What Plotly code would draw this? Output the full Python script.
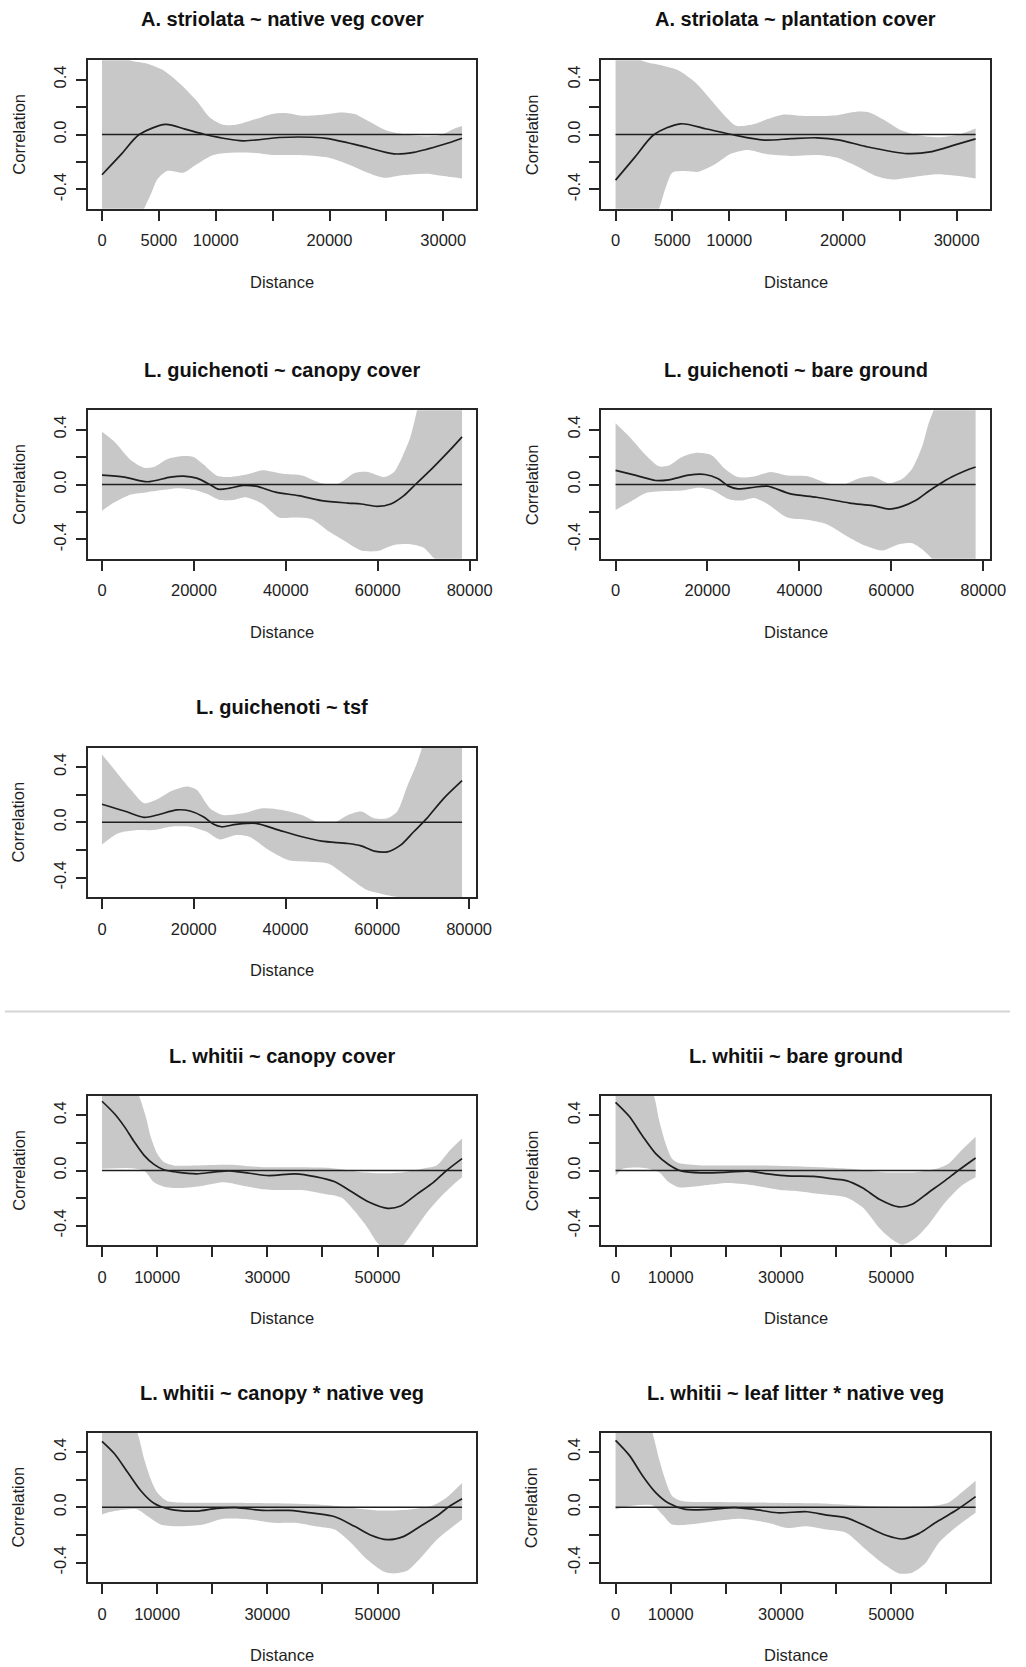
import plotly.graph_objects as go

W, H = 1026, 1667

# ---------------- data ----------------
titles = ["A. striolata ~ native veg cover", "A. striolata ~ plantation cover",
          "L. guichenoti ~ canopy cover", "L. guichenoti ~ bare ground",
          "L. guichenoti ~ tsf",
          "L. whitii ~ canopy cover", "L. whitii ~ bare ground",
          "L. whitii ~ canopy * native veg", "L. whitii ~ leaf litter * native veg"]

# panel 1
p1_line_x = [0, 1680, 3270, 5580, 7300, 9050, 12370, 15550, 18440, 19880, 22770, 25660, 27400, 30000, 31650]
p1_line_y = [-0.293, -0.145, 0, 0.073, 0.039, 0, -0.046, -0.022, -0.020, -0.030, -0.083, -0.141, -0.130, -0.073, -0.027]
p1_up_x = [0, 2690, 3990, 5430, 6880, 8320, 9480, 10640, 11790, 13530, 14970, 16130, 17570, 19310, 21040, 22200, 23640, 25090, 26530, 28270, 29710, 30870, 31650]
p1_up_y = [0.62, 0.534, 0.515, 0.466, 0.368, 0.246, 0.124, 0.071, 0.071, 0.112, 0.149, 0.156, 0.137, 0.144, 0.161, 0.149, 0.088, 0.027, 0.002, -0.012, -0.005, 0.039, 0.061]
p1_lo_x = [0, 3000, 3700, 4280, 4860, 5720, 7170, 8320, 9770, 11210, 13240, 14970, 16990, 18730, 19880, 21620, 23350, 24800, 26530, 28550, 30000, 31650]
p1_lo_y = [-1.0, -0.65, -0.54, -0.437, -0.327, -0.266, -0.278, -0.217, -0.149, -0.132, -0.132, -0.149, -0.149, -0.156, -0.168, -0.217, -0.278, -0.315, -0.295, -0.285, -0.302, -0.320]

# panel 2
p2_line_x = [0, 1700, 3385, 5700, 8000, 10180, 13070, 15500, 17700, 19730, 22040, 25660, 27830, 29850, 31670]
p2_line_y = [-0.332, -0.165, 0, 0.078, 0.040, 0, -0.041, -0.030, -0.024, -0.041, -0.088, -0.139, -0.124, -0.076, -0.032]
p2_up_x = [0, 2660, 4110, 5550, 7000, 8450, 9600, 10620, 12200, 13360, 14810, 16260, 17990, 19440, 21180, 22330, 23490, 24930, 26380, 28400, 30140, 31670]
p2_up_y = [0.62, 0.527, 0.502, 0.466, 0.380, 0.246, 0.137, 0.063, 0.076, 0.112, 0.146, 0.137, 0.134, 0.141, 0.166, 0.161, 0.112, 0.039, -0.002, -0.020, -0.002, 0.044]
p2_lo_x = [0, 3100, 3820, 4400, 4980, 5840, 7290, 8740, 10180, 11630, 13360, 15390, 17700, 19440, 21180, 22910, 24350, 26380, 28400, 30140, 31670]
p2_lo_y = [-1.0, -0.65, -0.54, -0.388, -0.278, -0.266, -0.271, -0.217, -0.139, -0.112, -0.144, -0.156, -0.149, -0.168, -0.229, -0.302, -0.327, -0.307, -0.290, -0.302, -0.320]

# panel 3
p3_line_x = [0, 4870, 9870, 14880, 17750, 20610, 23470, 25260, 27760, 30630, 33490, 37780, 42790, 47800, 53520, 56390, 59960, 62830, 65690, 68190, 72130, 75700, 78350]
p3_line_y = [0.068, 0.054, 0.020, 0.054, 0.061, 0.046, 0, -0.034, -0.027, -0.007, -0.012, -0.056, -0.081, -0.117, -0.135, -0.142, -0.159, -0.142, -0.081, 0, 0.127, 0.250, 0.347]
p3_up_x = [0, 2720, 6300, 9160, 11310, 14170, 17030, 19890, 22040, 24900, 27760, 32060, 34920, 39210, 43510, 47800, 51380, 54960, 57820, 61400, 63540, 65330, 67120, 68550, 70000, 78350]
p3_up_y = [0.384, 0.311, 0.176, 0.122, 0.127, 0.183, 0.205, 0.201, 0.147, 0.066, 0.054, 0.078, 0.103, 0.078, 0.066, 0.010, 0.005, 0.083, 0.091, 0.054, 0.091, 0.201, 0.347, 0.54, 0.75, 1.2]
p3_lo_x = [0, 2720, 6300, 9870, 13450, 16320, 19890, 22750, 25620, 28480, 31340, 34920, 38500, 42080, 45660, 49230, 52810, 56390, 59960, 63540, 67120, 69980, 72130, 73000, 78350]
p3_lo_y = [-0.191, -0.130, -0.073, -0.056, -0.039, -0.027, -0.039, -0.068, -0.113, -0.113, -0.093, -0.142, -0.240, -0.240, -0.252, -0.338, -0.411, -0.480, -0.484, -0.440, -0.435, -0.460, -0.533, -0.56, -0.9]

# panel 4
p4_line_x = [0, 4440, 8730, 11590, 15890, 19460, 22330, 24470, 26620, 30200, 33060, 38070, 43790, 50950, 55960, 59530, 62400, 65260, 68120, 70270, 73130, 75990, 78350]
p4_line_y = [0.103, 0.066, 0.029, 0.034, 0.068, 0.073, 0.042, -0.010, -0.032, -0.020, -0.012, -0.068, -0.093, -0.135, -0.154, -0.179, -0.159, -0.117, -0.049, -0.002, 0.054, 0.098, 0.127]
p4_up_x = [0, 3000, 6580, 9450, 11590, 14450, 17320, 20890, 23760, 26620, 30200, 33780, 37350, 41640, 45940, 49520, 53090, 55960, 59530, 62400, 64540, 66690, 68120, 69190, 70500, 78350]
p4_up_y = [0.445, 0.347, 0.213, 0.132, 0.139, 0.201, 0.230, 0.213, 0.115, 0.054, 0.059, 0.091, 0.066, 0.061, 0.010, 0, 0.046, 0.059, 0.010, 0.042, 0.115, 0.274, 0.445, 0.54, 0.75, 1.2]
p4_lo_x = [0, 3000, 6580, 10160, 14450, 18030, 20890, 24470, 27330, 30200, 33060, 37350, 41640, 45940, 50230, 54520, 58100, 61680, 64540, 66690, 68840, 70000, 78350]
p4_lo_y = [-0.186, -0.130, -0.061, -0.049, -0.044, -0.024, -0.039, -0.105, -0.117, -0.098, -0.142, -0.240, -0.257, -0.289, -0.374, -0.448, -0.480, -0.435, -0.428, -0.472, -0.54, -0.6, -1.0]

# panel 5
p5_line_x = [0, 4870, 9170, 12040, 16340, 19200, 22080, 24230, 26020, 29240, 33540, 38550, 43570, 47870, 53600, 56470, 59330, 62200, 65070, 67940, 70800, 74390, 78470]
p5_line_y = [0.131, 0.082, 0.036, 0.053, 0.090, 0.082, 0.041, -0.012, -0.032, -0.015, -0.007, -0.056, -0.104, -0.136, -0.153, -0.170, -0.208, -0.213, -0.165, -0.068, 0.029, 0.170, 0.301]
p5_up_x = [0, 2720, 6310, 9170, 12040, 14900, 18490, 20640, 23510, 26380, 30670, 34970, 39270, 43570, 47150, 50730, 53600, 56470, 59330, 62200, 64350, 66500, 68650, 69720, 71000, 78470]
p5_up_y = [0.490, 0.381, 0.235, 0.138, 0.167, 0.223, 0.259, 0.235, 0.102, 0.053, 0.065, 0.102, 0.090, 0.053, 0, 0, 0.053, 0.078, 0.029, 0.029, 0.078, 0.259, 0.429, 0.54, 0.75, 1.2]
p5_lo_x = [0, 3440, 7740, 11320, 14900, 19200, 22790, 25660, 29240, 32110, 36410, 40720, 45730, 49310, 53600, 57900, 60770, 63640, 66500, 68000, 78470]
p5_lo_y = [-0.160, -0.080, -0.056, -0.056, -0.032, -0.032, -0.068, -0.124, -0.092, -0.104, -0.201, -0.274, -0.286, -0.298, -0.395, -0.492, -0.516, -0.536, -0.55, -0.6, -1.0]

# panel 6
p6_line_x = [0, 2270, 4060, 5850, 7640, 9430, 11220, 13600, 17180, 20170, 23150, 26730, 30310, 35080, 38660, 42240, 45230, 48210, 51790, 54180, 57160, 60140, 62530, 65330]
p6_line_y = [0.502, 0.411, 0.318, 0.208, 0.110, 0.044, 0.005, -0.012, -0.024, -0.012, -0.002, -0.020, -0.037, -0.024, -0.044, -0.081, -0.152, -0.225, -0.274, -0.257, -0.171, -0.086, 0, 0.086]
p6_up_x = [0, 6740, 7940, 8830, 10020, 11220, 13010, 17180, 23150, 29120, 35080, 41050, 44030, 47020, 51190, 54770, 58950, 60740, 63130, 65330]
p6_up_y = [1.2, 0.54, 0.391, 0.245, 0.122, 0.061, 0.037, 0.037, 0.042, 0.024, 0.024, 0.020, 0.005, -0.012, -0.020, -0.012, 0.020, 0.037, 0.147, 0.232]
p6_lo_x = [0, 5250, 7640, 9430, 11220, 14200, 18380, 21960, 25540, 29120, 32700, 36280, 39860, 43440, 45820, 48210, 50000, 51500, 53500, 54770, 56560, 58950, 61340, 63720, 65330]
p6_lo_y = [0.012, 0.017, 0, -0.086, -0.117, -0.127, -0.110, -0.086, -0.110, -0.135, -0.142, -0.142, -0.166, -0.196, -0.294, -0.416, -0.526, -0.58, -0.58, -0.538, -0.440, -0.306, -0.196, -0.103, -0.049]

# panel 7
p7_line_x = [0, 2510, 4890, 7280, 9670, 12050, 15630, 20400, 23990, 27570, 31150, 35920, 39500, 41890, 44870, 47850, 51430, 53820, 56800, 59790, 62170, 65330]
p7_line_y = [0.494, 0.391, 0.250, 0.122, 0.042, -0.005, -0.017, -0.012, -0.005, -0.024, -0.039, -0.042, -0.061, -0.073, -0.127, -0.208, -0.264, -0.245, -0.159, -0.073, 0, 0.091]
p7_up_x = [0, 6980, 7880, 9070, 10260, 11460, 15630, 24580, 33530, 42490, 48450, 54420, 58590, 60390, 62770, 65330]
p7_up_y = [1.2, 0.54, 0.367, 0.196, 0.086, 0.054, 0.037, 0.037, 0.029, 0.012, -0.012, -0.012, 0.017, 0.049, 0.147, 0.245]
p7_lo_x = [0, 1300, 4890, 7880, 9670, 11460, 15630, 20400, 24580, 29950, 33530, 37110, 41890, 44870, 47850, 50240, 52030, 54420, 56800, 59790, 62770, 65330]
p7_lo_y = [-0.037, 0.012, 0.020, -0.012, -0.086, -0.122, -0.110, -0.091, -0.105, -0.142, -0.152, -0.171, -0.196, -0.269, -0.416, -0.502, -0.538, -0.489, -0.391, -0.232, -0.110, -0.049]

# panel 8
p8_line_x = [0, 2270, 4650, 7040, 9430, 12410, 17180, 20760, 24340, 29120, 33890, 38660, 42240, 45820, 48810, 51790, 54770, 57760, 60740, 63130, 65330]
p8_line_y = [0.478, 0.388, 0.254, 0.120, 0.029, -0.015, -0.027, -0.007, -0.002, -0.022, -0.022, -0.044, -0.068, -0.137, -0.202, -0.234, -0.210, -0.137, -0.063, 0.010, 0.063]
p8_up_x = [0, 6440, 7640, 8830, 10020, 11810, 14800, 23150, 32100, 41050, 50000, 55970, 60140, 62530, 65330]
p8_up_y = [1.2, 0.54, 0.351, 0.205, 0.107, 0.046, 0.034, 0.034, 0.029, 0.015, -0.022, -0.015, 0.015, 0.071, 0.176]
p8_lo_x = [0, 2270, 6440, 8230, 10620, 13600, 18380, 21960, 26730, 30910, 35080, 38660, 42240, 45230, 48210, 51190, 52980, 55370, 57760, 60740, 63720, 65330]
p8_lo_y = [-0.051, -0.027, -0.015, -0.063, -0.124, -0.137, -0.124, -0.083, -0.088, -0.112, -0.112, -0.137, -0.161, -0.259, -0.380, -0.466, -0.478, -0.459, -0.368, -0.234, -0.137, -0.088]

# panel 9
p9_line_x = [0, 2510, 4890, 7280, 9670, 12650, 16830, 21600, 25180, 29360, 34730, 38310, 41890, 45470, 49050, 52030, 55010, 58000, 61580, 65330]
p9_line_y = [0.485, 0.376, 0.229, 0.107, 0.029, -0.015, -0.015, -0.002, -0.015, -0.039, -0.032, -0.056, -0.076, -0.137, -0.202, -0.229, -0.190, -0.112, -0.027, 0.078]
p9_up_x = [0, 6680, 7880, 9070, 10260, 12050, 18620, 27570, 36520, 45470, 51430, 57400, 60390, 62770, 65330]
p9_up_y = [1.2, 0.54, 0.351, 0.193, 0.083, 0.046, 0.039, 0.034, 0.029, 0.010, 0.002, 0.010, 0.034, 0.107, 0.193]
p9_lo_x = [0, 2510, 6680, 8470, 10260, 13250, 18020, 22790, 27570, 31150, 34730, 38310, 41890, 45470, 48450, 51430, 53820, 56200, 58590, 61580, 65330]
p9_lo_y = [-0.015, 0.010, 0.015, -0.051, -0.124, -0.124, -0.100, -0.083, -0.112, -0.149, -0.137, -0.161, -0.185, -0.307, -0.405, -0.478, -0.473, -0.405, -0.259, -0.149, -0.039]

# tick values / labels
xt_a = [0, 5000, 10000, 15000, 20000, 25000, 30000]
xl_a = ["0", "5000", "10000", "", "20000", "", "30000"]
xt_b = [0, 20000, 40000, 60000, 80000]
xl_b = ["0", "20000", "40000", "60000", "80000"]
xt_c = [0, 10000, 20000, 30000, 40000, 50000, 60000]
xl_c = ["0", "10000", "", "30000", "", "50000", ""]
yt = [-0.4, -0.2, 0.0, 0.2, 0.4]
yl = ["-0.4", "", "0.0", "", "0.4"]
y_lim = [-0.5, 0.5]

panels = [
    (p1_line_x, p1_line_y, p1_up_x, p1_up_y, p1_lo_x, p1_lo_y, xt_a, xl_a),
    (p2_line_x, p2_line_y, p2_up_x, p2_up_y, p2_lo_x, p2_lo_y, xt_a, xl_a),
    (p3_line_x, p3_line_y, p3_up_x, p3_up_y, p3_lo_x, p3_lo_y, xt_b, xl_b),
    (p4_line_x, p4_line_y, p4_up_x, p4_up_y, p4_lo_x, p4_lo_y, xt_b, xl_b),
    (p5_line_x, p5_line_y, p5_up_x, p5_up_y, p5_lo_x, p5_lo_y, xt_b, xl_b),
    (p6_line_x, p6_line_y, p6_up_x, p6_up_y, p6_lo_x, p6_lo_y, xt_c, xl_c),
    (p7_line_x, p7_line_y, p7_up_x, p7_up_y, p7_lo_x, p7_lo_y, xt_c, xl_c),
    (p8_line_x, p8_line_y, p8_up_x, p8_up_y, p8_lo_x, p8_lo_y, xt_c, xl_c),
    (p9_line_x, p9_line_y, p9_up_x, p9_up_y, p9_lo_x, p9_lo_y, xt_c, xl_c),
]

# ---------------- layout geometry (pixels) ----------------
cols = {0: (89.0, 484.0), 1: (610.7, 1005.7)}
rows = [(60.3, 208.7), (410.3, 558.7), (747.7, 897.0), (1096.0, 1245.0), (1432.7, 1582.0)]
title_y = [19, 370, 706.7, 1056, 1393]
cells = [(0, 0), (0, 1), (1, 0), (1, 1), (2, 0), (3, 0), (3, 1), (4, 0), (4, 1)]

FONT = "Liberation Sans, Arial, sans-serif"
BAND = "#c8c8c8"
INK = "#1e1e1e"


def fx(px):
    return px / W


def fy(py):
    return 1 - py / H


fig = go.Figure()
annotations = []
layout_axes = {}

for i, (lx, ly, ux, uy, dx, dy, xt, xl) in enumerate(panels):
    r, c = cells[i]
    n = "" if i == 0 else str(i + 1)
    xa, ya = "x" + n, "y" + n
    x0, x1 = cols[c]
    top, bot = rows[r]

    # confidence band: lower bound, then upper bound filled down to it
    fig.add_trace(go.Scatter(
        x=dx, y=dy, mode="lines", line=dict(width=0, color=BAND, shape="spline", smoothing=0.7),
        hoverinfo="skip", showlegend=False, xaxis=xa, yaxis=ya))
    fig.add_trace(go.Scatter(
        x=ux, y=uy, mode="lines", fill="tonexty", fillcolor=BAND,
        line=dict(width=0, color=BAND, shape="spline", smoothing=0.7),
        hoverinfo="skip", showlegend=False, xaxis=xa, yaxis=ya))
    # zero reference line across data range
    fig.add_trace(go.Scatter(
        x=[lx[0], lx[-1]], y=[0, 0], mode="lines",
        line=dict(color=INK, width=1.5), showlegend=False, xaxis=xa, yaxis=ya))
    # correlogram line
    fig.add_trace(go.Scatter(
        x=lx, y=ly, mode="lines", line=dict(color=INK, width=1.7, shape="spline", smoothing=0.8),
        showlegend=False, xaxis=xa, yaxis=ya))

    xmin, xmax = min(lx), max(lx)
    pad = 0.04 * (xmax - xmin)
    ypad = 0.04 * (y_lim[1] - y_lim[0])
    axis_common = dict(showline=True, mirror=True, linecolor="#262626", linewidth=1.6,
                       ticks="outside", ticklen=10, tickwidth=1.5, tickcolor="#262626",
                       showgrid=False, zeroline=False,
                       tickfont=dict(family=FONT, size=16.5, color=INK))
    layout_axes["xaxis" + n] = dict(
        axis_common, domain=[fx(x0), fx(x1)], anchor=ya,
        range=[xmin - pad, xmax + pad], tickmode="array", tickvals=xt, ticktext=xl,
        ticklabelstandoff=6)
    layout_axes["yaxis" + n] = dict(
        axis_common, domain=[fy(bot), fy(top)], anchor=xa,
        range=[y_lim[0] - ypad, y_lim[1] + ypad], tickmode="array", tickvals=yt, ticktext=yl,
        tickangle=-90, ticklabelstandoff=3)

    cx = (x0 + x1) / 2
    annotations.append(dict(text="<b>%s</b>" % titles[i], x=fx(cx), y=fy(title_y[r]),
                            xref="paper", yref="paper", xanchor="center", yanchor="middle",
                            showarrow=False, font=dict(family=FONT, size=20, color="#111")))
    annotations.append(dict(text="Distance", x=fx(cx), y=fy(bot + 73),
                            xref="paper", yref="paper", xanchor="center", yanchor="middle",
                            showarrow=False, font=dict(family=FONT, size=16.5, color=INK)))
    annotations.append(dict(text="Correlation", x=fx(x0 - 70.5), y=fy((top + bot) / 2),
                            xref="paper", yref="paper", xanchor="center", yanchor="middle",
                            textangle=-90, showarrow=False,
                            font=dict(family=FONT, size=16.5, color=INK)))

fig.update_layout(
    width=W, height=H, margin=dict(l=0, r=0, t=0, b=0),
    paper_bgcolor="white", plot_bgcolor="white", showlegend=False,
    annotations=annotations,
    shapes=[dict(type="line", xref="paper", yref="paper", x0=fx(5), x1=1,
                 y0=fy(1011.5), y1=fy(1011.5), line=dict(color="#d4d4d4", width=2))],
    **layout_axes)

fig.write_html("out.html")
